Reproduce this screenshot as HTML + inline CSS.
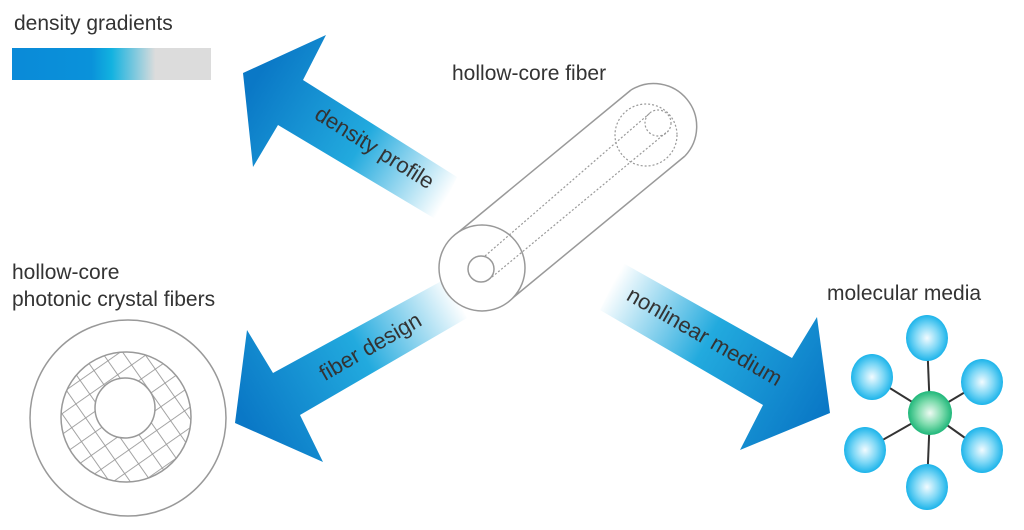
<!DOCTYPE html>
<html><head><meta charset="utf-8"><style>
html,body{margin:0;padding:0;background:#fff;}
svg{display:block;}
text{font-family:"Liberation Sans",sans-serif;fill:#333;}
</style></head><body>
<svg width="1024" height="530" viewBox="0 0 1024 530" xmlns="http://www.w3.org/2000/svg">
<defs>
<linearGradient id="bar" x1="0" x2="1" y1="0" y2="0">
<stop offset="0" stop-color="#0a8ad8"/><stop offset="0.4" stop-color="#0a92da"/>
<stop offset="0.5" stop-color="#12b2e0"/><stop offset="0.72" stop-color="#dcdcdc"/><stop offset="1" stop-color="#dcdcdc"/>
</linearGradient>
<linearGradient id="a1" gradientUnits="userSpaceOnUse" x1="447" y1="198" x2="255" y2="80">
<stop offset="0" stop-color="#ffffff"/><stop offset="0.45" stop-color="#22aade"/><stop offset="1" stop-color="#0a78c6"/>
</linearGradient>
<linearGradient id="a2" gradientUnits="userSpaceOnUse" x1="457" y1="298" x2="245" y2="420">
<stop offset="0" stop-color="#ffffff"/><stop offset="0.45" stop-color="#22aade"/><stop offset="1" stop-color="#0a78c6"/>
</linearGradient>
<linearGradient id="a3" gradientUnits="userSpaceOnUse" x1="611" y1="286" x2="825" y2="410">
<stop offset="0" stop-color="#ffffff"/><stop offset="0.45" stop-color="#22aade"/><stop offset="1" stop-color="#0a78c6"/>
</linearGradient>
<radialGradient id="blue" cx="0.5" cy="0.5" r="0.5">
<stop offset="0" stop-color="#f2fbff"/><stop offset="0.55" stop-color="#7fd8f6"/><stop offset="1" stop-color="#1cb4ea"/>
</radialGradient>
<radialGradient id="green" cx="0.5" cy="0.5" r="0.5">
<stop offset="0" stop-color="#eefaf2"/><stop offset="0.55" stop-color="#7fdcae"/><stop offset="1" stop-color="#1fb77a"/>
</radialGradient>
<pattern id="grid" patternUnits="userSpaceOnUse" width="17" height="17" patternTransform="rotate(-35)">
<path d="M0 0H17M0 0V17" stroke="#999" stroke-width="1.8" fill="none"/>
</pattern>
<mask id="ann">
<circle cx="126" cy="417" r="65" fill="#fff"/>
<circle cx="125" cy="408" r="30" fill="#000"/>
</mask>
</defs>

<text x="14" y="30" font-size="21">density gradients</text>
<rect x="12" y="48" width="199" height="32" fill="url(#bar)"/>

<!-- arrows -->
<polygon points="243,73 326,35 303,80 457,177 437,220 278,125 253,167" fill="url(#a1)"/>
<polygon points="235,423 247,330 273,373 447,278 467,318 300,415 323,462" fill="url(#a2)"/>
<polygon points="623,263 792,358 817,317 830,413 740,450 763,405 600,310" fill="url(#a3)"/>
<text x="375" y="155" font-size="22" text-anchor="middle" transform="rotate(32 375 147)">density profile</text>
<text x="370" y="354" font-size="22" text-anchor="middle" transform="rotate(-30 370 346)">fiber design</text>
<text x="705" y="344" font-size="22" text-anchor="middle" transform="rotate(30 705 336)">nonlinear medium</text>

<!-- hollow core fiber -->
<text x="452" y="80" font-size="21">hollow-core fiber</text>
<g fill="none" stroke="#999" stroke-width="1.5">
<path d="M455 235 L631 90"/>
<path d="M509 301 L685 156"/>
<path d="M631 90 A43 43 0 0 1 685 156"/>
<circle cx="482" cy="268" r="43" fill="#fff"/>
<circle cx="481" cy="269" r="13"/>
<g stroke-dasharray="2 2" stroke-width="1.2">
<circle cx="646" cy="135" r="31"/>
<circle cx="658" cy="123" r="13"/>
<path d="M485 256 L650 113"/>
<path d="M492 277 L668 131"/>
</g>
</g>

<!-- PCF -->
<text x="12" y="279" font-size="21">hollow-core</text>
<text x="12" y="306" font-size="21">photonic crystal fibers</text>
<circle cx="128" cy="418" r="98" fill="none" stroke="#999" stroke-width="1.5"/>
<rect x="55" y="345" width="145" height="145" fill="url(#grid)" mask="url(#ann)"/>
<circle cx="126" cy="417" r="65" fill="none" stroke="#999" stroke-width="1.5"/>
<circle cx="125" cy="408" r="30" fill="none" stroke="#999" stroke-width="1.5"/>

<!-- molecule -->
<text x="827" y="300" font-size="21">molecular media</text>
<g stroke="#333" stroke-width="2">
<line x1="930" y1="413" x2="927" y2="338"/>
<line x1="930" y1="413" x2="872" y2="377"/>
<line x1="930" y1="413" x2="982" y2="382"/>
<line x1="930" y1="413" x2="865" y2="450"/>
<line x1="930" y1="413" x2="982" y2="450"/>
<line x1="930" y1="413" x2="927" y2="487"/>
</g>
<g fill="url(#blue)">
<ellipse cx="927" cy="338" rx="21" ry="23"/>
<ellipse cx="872" cy="377" rx="21" ry="23"/>
<ellipse cx="982" cy="382" rx="21" ry="23"/>
<ellipse cx="865" cy="450" rx="21" ry="23"/>
<ellipse cx="982" cy="450" rx="21" ry="23"/>
<ellipse cx="927" cy="487" rx="21" ry="23"/>
</g>
<circle cx="930" cy="413" r="22" fill="url(#green)"/>
</svg>
</body></html>
